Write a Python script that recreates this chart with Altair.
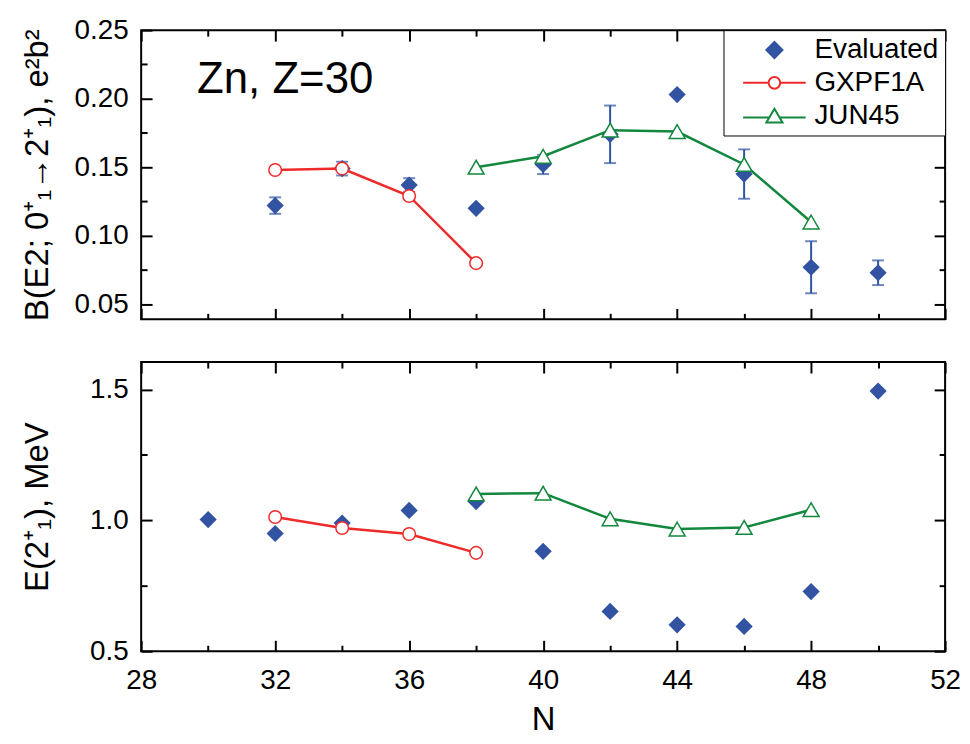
import altair as alt
import pandas as pd

# ---------------- data ----------------
SERIES = ["Evaluated", "GXPF1A", "JUN45"]

# B(E2) panel
N_EVAL_B = [32, 34, 36, 38, 40, 42, 44, 46, 48, 50]
B_EVAL = [0.122, 0.149, 0.137, 0.120, 0.152, 0.174, 0.203, 0.145, 0.077, 0.073]
B_ERR = [0.006, 0.005, 0.005, 0.0, 0.007, 0.021, 0.0, 0.018, 0.019, 0.009]

N_GX = [32, 34, 36, 38]
B_GX = [0.148, 0.149, 0.129, 0.080]
E_GX = [1.013, 0.971, 0.948, 0.876]

N_JUN = [38, 40, 42, 44, 46, 48]
B_JUN = [0.150, 0.158, 0.177, 0.176, 0.152, 0.110]
E_JUN = [1.101, 1.104, 1.006, 0.967, 0.973, 1.041]

# E(2+) panel
N_EVAL_E = [30, 32, 34, 36, 38, 40, 42, 44, 46, 48, 50]
E_EVAL = [1.003, 0.950, 0.990, 1.038, 1.072, 0.882, 0.652, 0.601, 0.595, 0.728, 1.494]

# axes
X_DOMAIN = [28, 52]
X_MAJOR = [28, 32, 36, 40, 44, 48, 52]
X_MINOR = [30, 34, 38, 42, 46, 50]
B_DOMAIN = [0.039, 0.25]
B_MAJOR = [0.05, 0.10, 0.15, 0.20, 0.25]
B_MINOR = [0.075, 0.125, 0.175, 0.225]
E_DOMAIN = [0.5, 1.605]
E_MAJOR = [0.5, 1.0, 1.5]
E_MINOR = [0.75, 1.25]

TOP_TITLE = "B(E2; 0\u207a\u2081\u21922\u207a\u2081), e\u00b2b\u00b2"
BOT_TITLE = "E(2\u207a\u2081), MeV"
NOTE = "Zn, Z=30"
NOTE_N = 29.67
NOTE_B = 0.2045

BLUE = "#3153A2"
RED = "#EE2A2A"
GREEN = "#12873E"
FONT = "Liberation Sans"

# legend symbol paths (unit square scaled)
P_DIAMOND = "M0,-0.9L0.9,0L0,0.9L-0.9,0Z"
P_CIRCLE = ("M-3.5,0L-0.65,0M0.65,0L3.5,0M0.65,0"
            "A0.65,0.65,0,1,1,-0.65,0A0.65,0.65,0,1,1,0.65,0Z")
P_TRIANGLE = "M-3.5,0.2L-0.57,0.2M0.57,0.2L3.5,0.2M0,-0.78L0.9,0.78L-0.9,0.78Z"

# ---------------- tables ----------------
eval_b = pd.DataFrame({"N": N_EVAL_B, "B": B_EVAL, "err": B_ERR})
eval_b["lo"] = eval_b["B"] - eval_b["err"]
eval_b["hi"] = eval_b["B"] + eval_b["err"]
err_b = eval_b[eval_b["err"] > 0]
gx_b = pd.DataFrame({"N": N_GX, "B": B_GX})
jun_b = pd.DataFrame({"N": N_JUN, "B": B_JUN})

eval_e = pd.DataFrame({"N": N_EVAL_E, "E": E_EVAL})
gx_e = pd.DataFrame({"N": N_GX, "E": E_GX})
jun_e = pd.DataFrame({"N": N_JUN, "E": E_JUN})

legend_df = pd.concat([
    eval_b[["N", "B"]].assign(series=SERIES[0]),
    gx_b.assign(series=SERIES[1]),
    jun_b.assign(series=SERIES[2]),
])
note_df = pd.DataFrame({"N": [NOTE_N], "B": [NOTE_B], "text": [NOTE]})


def axis(orient, values, size, labels=False, fmt=None, title=None, **kw):
    props = dict(orient=orient, values=values, tickSize=size, offset=-size,
                 domain=False, grid=False, ticks=True, tickColor="black",
                 tickWidth=2, labels=labels, title=title)
    if labels:
        props.update(format=fmt, labelFontSize=28, labelFont=FONT,
                     labelColor="black", labelFlush=False, labelOverlap=False)
    if title:
        props.update(titleFontSize=33, titleFont=FONT,
                     titleFontWeight="normal", titleColor="black")
    props.update(kw)
    return alt.Axis(**props)


def axes_layers(data, ycol, xs, ys, y_major, y_minor, y_fmt, y_title,
                y_title_pad, x_labels):
    base = alt.Chart(data).mark_point(opacity=0)
    if x_labels:
        xa_major = axis("bottom", X_MAJOR, 11, labels=True, fmt="d", title="N",
                        labelPadding=15, titlePadding=10)
    else:
        xa_major = axis("bottom", X_MAJOR, 11)
    specs = [
        (xa_major,
         axis("left", y_major, 11, labels=True, fmt=y_fmt, title=y_title,
              labelPadding=13, titlePadding=y_title_pad)),
        (axis("bottom", X_MINOR, 6), axis("left", y_minor, 6)),
        (axis("top", X_MAJOR, 11), axis("right", y_major, 11)),
        (axis("top", X_MINOR, 6), axis("right", y_minor, 6)),
    ]
    return [base.encode(x=alt.X("N:Q", scale=xs, axis=xa),
                        y=alt.Y(f"{ycol}:Q", scale=ys, axis=ya))
            for xa, ya in specs]


def model_layers(df, ycol, xs, ys, color, shape, size):
    enc = dict(x=alt.X("N:Q", scale=xs, axis=None),
               y=alt.Y(f"{ycol}:Q", scale=ys, axis=None))
    line = alt.Chart(df).mark_line(color=color, strokeWidth=2.5).encode(**enc)
    pts = alt.Chart(df).mark_point(shape=shape, filled=True, fill="white",
                                   stroke=color, strokeWidth=1.5, size=size,
                                   opacity=1).encode(**enc)
    return [line, pts]


xs = alt.Scale(domain=X_DOMAIN, nice=False, zero=False)
ys_b = alt.Scale(domain=B_DOMAIN, nice=False, zero=False)
ys_e = alt.Scale(domain=E_DOMAIN, nice=False, zero=False)

# ---------------- top panel ----------------
errbars = alt.Chart(err_b).mark_errorbar(ticks=True, size=12, thickness=2,
                                         color=BLUE).encode(
    x=alt.X("N:Q", scale=xs, axis=None),
    y=alt.Y("lo:Q", scale=ys_b, axis=None),
    y2=alt.Y2("hi:Q"),
)
eval_pts_b = alt.Chart(eval_b).mark_point(shape="diamond", filled=True,
                                          size=300, color=BLUE,
                                          opacity=1).encode(
    x=alt.X("N:Q", scale=xs, axis=None),
    y=alt.Y("B:Q", scale=ys_b, axis=None),
)

LEG = alt.Legend(title=None, orient="top-right", offset=0, padding=6,
                 strokeColor="black", fillColor="white", labelFontSize=28,
                 labelFont=FONT, labelColor="black", symbolSize=324,
                 symbolStrokeWidth=2, symbolOffset=31.25, labelOffset=26.25,
                 rowPadding=5, symbolOpacity=1)
legend_layer = alt.Chart(legend_df).mark_point(filled=True, opacity=0).encode(
    x=alt.X("N:Q", scale=xs, axis=None),
    y=alt.Y("B:Q", scale=ys_b, axis=None),
    fill=alt.Fill("series:N", scale=alt.Scale(domain=SERIES, range=[BLUE, "white", "white"]), legend=LEG),
    stroke=alt.Stroke("series:N", scale=alt.Scale(domain=SERIES, range=[BLUE, RED, GREEN]), legend=LEG),
    shape=alt.Shape("series:N", scale=alt.Scale(domain=SERIES, range=[P_DIAMOND, P_CIRCLE, P_TRIANGLE]), legend=LEG),
)
note_layer = alt.Chart(note_df).mark_text(align="left", baseline="alphabetic",
                                          fontSize=44, font=FONT,
                                          color="black").encode(
    x=alt.X("N:Q", scale=xs, axis=None),
    y=alt.Y("B:Q", scale=ys_b, axis=None),
    text="text:N",
)

top = alt.layer(
    *axes_layers(eval_b, "B", xs, ys_b, B_MAJOR, B_MINOR, ".2f", TOP_TITLE, 20, False),
    errbars, eval_pts_b,
    *model_layers(gx_b, "B", xs, ys_b, RED, "circle", 160),
    *model_layers(jun_b, "B", xs, ys_b, GREEN, "triangle-up", 256),
    legend_layer, note_layer,
).resolve_axis(x="independent", y="independent").properties(width=809, height=291)

# ---------------- bottom panel ----------------
eval_pts_e = alt.Chart(eval_e).mark_point(shape="diamond", filled=True,
                                          size=300, color=BLUE,
                                          opacity=1).encode(
    x=alt.X("N:Q", scale=xs, axis=None),
    y=alt.Y("E:Q", scale=ys_e, axis=None),
)
bottom = alt.layer(
    *axes_layers(eval_e, "E", xs, ys_e, E_MAJOR, E_MINOR, ".1f", BOT_TITLE, 35.6, True),
    eval_pts_e,
    *model_layers(gx_e, "E", xs, ys_e, RED, "circle", 160),
    *model_layers(jun_e, "E", xs, ys_e, GREEN, "triangle-up", 256),
).resolve_axis(x="independent", y="independent").properties(width=809, height=291)

chart = alt.vconcat(top, bottom, spacing=38).properties(
    padding={"left": 12, "top": 5, "right": 0, "bottom": 0}
).configure(font=FONT).configure_view(stroke="black", strokeWidth=2)

chart.save("out.html", embed_options={"renderer": "svg", "actions": False})
